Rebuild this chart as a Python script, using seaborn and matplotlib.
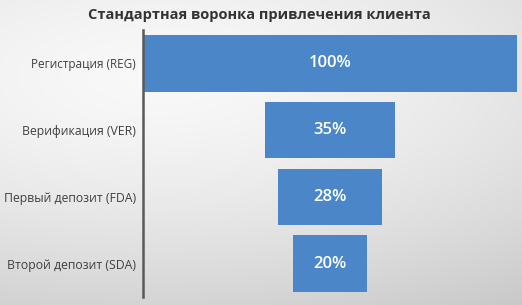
import numpy as np
import pandas as pd
import matplotlib
matplotlib.use("Agg")
import matplotlib.pyplot as plt
import seaborn as sns

stages = ["Регистрация (REG)", "Верификация (VER)", "Первый депозит (FDA)", "Второй депозит (SDA)"]
values = [100, 35, 28, 20]
labels = ["100%", "35%", "28%", "20%"]
title = "Стандартная воронка привлечения клиента"

sns.set_style("white")
plt.rcParams["font.family"] = ["Open Sans", "DejaVu Sans"]

W, H = 522, 305
fig = plt.figure(figsize=(W / 100, H / 100), dpi=100)

# background gradient
bg = fig.add_axes([0, 0, 1, 1], zorder=-10)
yy, xx = np.mgrid[0:1:200j, 0:1:300j]
d = np.sqrt(0.5 * (xx - 0.3) ** 2 + (yy - 0.25) ** 2)
g = 0.975 - 0.22 * d ** 1.5
bg.imshow(np.dstack([g, g, g]), aspect="auto", extent=[0, 1, 0, 1], origin="upper")
bg.axis("off")

ax = fig.add_axes([143 / W, 1 - 297 / H, (517 - 143) / W, (297 - 30) / H])
ax.patch.set_alpha(0)
df = pd.DataFrame({"stage": stages, "value": values})
sns.barplot(data=df, x="value", y="stage", orient="h", color="#4a86c8",
            saturation=1, width=0.85, linewidth=0, ax=ax)
for p, v, lab in zip(ax.patches, values, labels):
    p.set_x((100 - v) / 2)
    ax.text(50, p.get_y() + p.get_height() / 2, lab, ha="center", va="center",
            color="white", fontsize=12, fontweight="semibold")

ax.set_xlim(0, 100)
ax.set_ylim(3.5, -0.5)
ax.set_xlabel("")
ax.set_ylabel("")
ax.set_xticks([])
for s in ["top", "right", "bottom"]:
    ax.spines[s].set_visible(False)
ax.spines["left"].set_color("#595959")
ax.spines["left"].set_linewidth(1.8)
ax.tick_params(axis="y", length=0, pad=5, labelsize=8.8, labelcolor="#404040")
ax.get_yticklabels()[0].set_fontsize(8.5)

fig.text(259 / W, 1 - 15 / H, title, ha="center", va="center",
         fontsize=10.5, fontweight="bold", color="#333333")

fig.savefig("out.png", dpi=100)
